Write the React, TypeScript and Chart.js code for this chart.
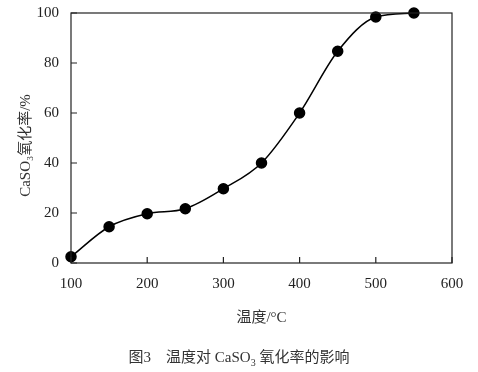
import React, { useEffect, useRef } from "react";
import { Chart, registerables } from "chart.js";

Chart.register(...registerables);

const temperatures = [100, 150, 200, 250, 300, 350, 400, 450, 500, 550];
const oxidationRates = [2.5, 14.5, 19.7, 21.7, 29.7, 40, 60, 84.7, 98.4, 100];
const xTitle = "温度/°C";
const yTitle = "CaSO₃氧化率/%";

const FONT = "'Liberation Serif', 'Times New Roman', 'Noto Sans CJK SC', serif";

const framePlugin = {
  id: "frameTicks",
  afterDraw(chart: any) {
    const { ctx, chartArea, scales } = chart;
    const { left, right, top, bottom } = chartArea;
    ctx.save();
    ctx.strokeStyle = "#222";
    ctx.lineWidth = 1.2;
    ctx.strokeRect(left, top, right - left, bottom - top);
    const len = 6;
    ctx.beginPath();
    scales.x.ticks.forEach((t: any) => {
      const px = scales.x.getPixelForValue(t.value);
      ctx.moveTo(px, bottom);
      ctx.lineTo(px, bottom - len);
    });
    scales.y.ticks.forEach((t: any) => {
      const py = scales.y.getPixelForValue(t.value);
      ctx.moveTo(left, py);
      ctx.lineTo(left + len, py);
    });
    ctx.stroke();
    ctx.restore();
  },
};

export default function App() {
  const ref = useRef<HTMLCanvasElement>(null);
  useEffect(() => {
    if (!ref.current) return;
    const chart = new Chart(ref.current, {
      type: "line",
      data: {
        datasets: [
          {
            data: temperatures.map((t, i) => ({ x: t, y: oxidationRates[i] })),
            borderColor: "#000",
            borderWidth: 1.5,
            backgroundColor: "#000",
            pointBackgroundColor: "#000",
            pointBorderColor: "#000",
            pointRadius: 5,
            cubicInterpolationMode: "monotone",
            clip: false as any,
          },
        ],
      },
      plugins: [framePlugin],
      options: {
        animation: false,
        responsive: false,
        layout: { padding: { left: 0, right: 26, top: 13, bottom: 41 } },
        plugins: { legend: { display: false }, tooltip: { enabled: false } },
        scales: {
          x: {
            type: "linear",
            min: 100,
            max: 600,
            ticks: { stepSize: 100, color: "#222", padding: 12, font: { family: FONT, size: 15 }, maxRotation: 0 },
            grid: { display: false, drawTicks: false },
            border: { display: false },
            title: { display: true, text: xTitle, color: "#333", font: { family: FONT, size: 15 }, padding: { top: 4, bottom: 4 } },
          },
          y: {
            min: 0,
            max: 100,
            ticks: { stepSize: 20, color: "#222", padding: 12, font: { family: FONT, size: 15 } },
            grid: { display: false, drawTicks: false },
            border: { display: false },
            title: {
              display: true,
              text: yTitle + "\u00a0\u00a0\u00a0\u00a0",
              color: "#333",
              font: { family: FONT, size: 15 },
              padding: { top: 17, bottom: 0 },
            },
            afterFit(scale: any) {
              scale.width = 71;
              scale.paddingTop = 0;
              scale.paddingBottom = 0;
            },
          },
        },
      },
    });
    return () => chart.destroy();
  }, []);
  return (
    <div style={{ position: "fixed", left: 0, top: 0, width: 478, height: 372, background: "#fff" }}>
      <canvas ref={ref} width={478} height={372} />
      <div
        style={{
          position: "absolute",
          left: 0,
          width: 478,
          top: 347,
          textAlign: "center",
          fontFamily: FONT,
          fontSize: 15,
          lineHeight: "20px",
          color: "#333",
        }}
      >
        图3&nbsp;&nbsp;&nbsp;&nbsp;温度对 CaSO<sub style={{ fontSize: 10 }}>3</sub> 氧化率的影响
      </div>
    </div>
  );
}
